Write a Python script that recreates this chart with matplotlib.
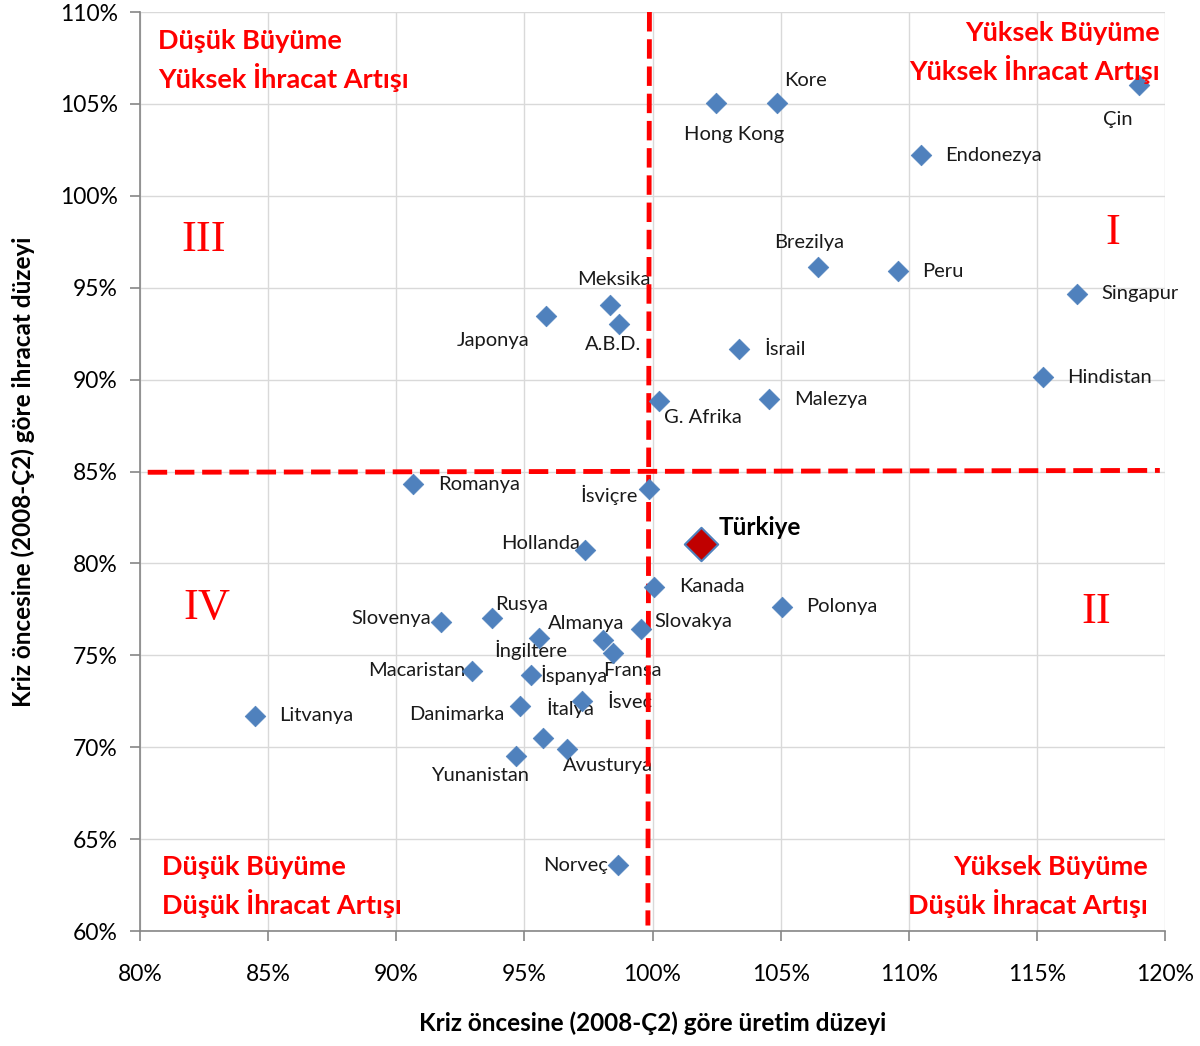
import matplotlib
matplotlib.use("Agg")
import matplotlib.pyplot as plt
from matplotlib.ticker import FuncFormatter

plt.rcParams['font.family'] = ['Lato', 'DejaVu Sans']

# countries: production level (x) and export level (y), % of 2008-Q2
countries = ['Çin', 'Kore', 'Hong Kong', 'Endonezya', 'Brezilya', 'Peru', 'Singapur',
             'Meksika', 'Japonya', 'A.B.D.', 'İsrail', 'Hindistan', 'G. Afrika', 'Malezya',
             'Romanya', 'İsviçre', 'Hollanda', 'Kanada', 'Polonya', 'Rusya', 'Slovenya',
             'Slovakya', 'İngiltere', 'Almanya', 'Fransa', 'Macaristan', 'İspanya', 'İsveç',
             'Danimarka', 'İtalya', 'Avusturya', 'Yunanistan', 'Litvanya', 'Norveç']
uretim = [118.98, 104.86, 102.48, 110.48, 106.46, 109.58, 116.57,
          98.34, 95.84, 98.69, 103.38, 115.24, 100.25, 104.55,
          90.65, 99.86, 97.37, 100.06, 105.05, 93.74, 91.75,
          99.55, 95.57, 98.07, 98.46, 92.96, 95.26, 97.25,
          94.83, 95.73, 96.66, 94.67, 84.49, 98.65]
ihracat = [106.03, 105.05, 105.05, 102.22, 96.13, 95.91, 94.66,
           94.06, 93.46, 93.03, 91.66, 90.14, 88.84, 88.94,
           84.32, 84.05, 80.73, 78.72, 77.63, 77.03, 76.81,
           76.43, 75.94, 75.83, 75.13, 74.15, 73.93, 72.51,
           72.24, 70.50, 69.90, 69.52, 71.70, 63.59]

turkiye_x = [101.89]
turkiye_y = [81.06]

# quadrant divider lines
vline_x = [99.88, 99.82]
vline_y = [110.0, 60.3]
hline_x = [80.3, 119.8]
hline_y = [84.96, 85.06]

# label offsets in pixels (dx, dy)
offsets = {
    'Çin': (-21, -35), 'Kore': (28, 23), 'Hong Kong': (18, -31), 'Endonezya': (72, 0),
    'Brezilya': (-9, 24), 'Peru': (45, 0), 'Singapur': (63, 0), 'Meksika': (4, 26),
    'Japonya': (-53, -24), 'A.B.D.': (-6, -21), 'İsrail': (46, 0), 'Hindistan': (67, 0),
    'G. Afrika': (44, -17), 'Malezya': (62, 0), 'Romanya': (66, 0), 'İsviçre': (-40, -6),
    'Hollanda': (-45, 7), 'Kanada': (58, 0), 'Polonya': (60, 0), 'Rusya': (29, 14),
    'Slovenya': (-50, 4), 'Slovakya': (52, 8), 'İngiltere': (-8, -12), 'Almanya': (-17, 17),
    'Fransa': (19, -18), 'Macaristan': (-55, 0), 'İspanya': (43, 0), 'İsveç': (48, 0),
    'Danimarka': (-63, -8), 'İtalya': (27, 30), 'Avusturya': (41, -16),
    'Yunanistan': (-36, -19), 'Litvanya': (61, 0), 'Norveç': (-42, 0),
}

fig = plt.figure(figsize=(12, 10.46), dpi=100)
ax = fig.add_axes([0.1167, 0.1099, 0.8541, 0.8786])

ax.set_xlim(80, 120)
ax.set_ylim(60, 110)
ax.set_xticks(range(80, 121, 5))
ax.set_yticks(range(60, 111, 5))
pct = FuncFormatter(lambda v, p: '%d%%' % v)
ax.xaxis.set_major_formatter(pct)
ax.yaxis.set_major_formatter(pct)
ax.grid(True, color='#d9d9d9', linewidth=1)
ax.set_axisbelow(True)
for s in ['top', 'right']:
    ax.spines[s].set_visible(False)
for s in ['left', 'bottom']:
    ax.spines[s].set_color('#868686')
    ax.spines[s].set_linewidth(1.2)
ax.tick_params(axis='both', direction='out', length=7, width=1.2, color='#868686',
               labelsize=16.5, labelcolor='black', pad=9)
ax.tick_params(axis='x', pad=17)

ax.plot(vline_x, vline_y, color='#ff0000', linewidth=3.5, linestyle=(0, (4, 1.6)), zorder=2)
ax.plot(hline_x, hline_y, color='#ff0000', linewidth=3.5, linestyle=(0, (4, 1.6)), zorder=2)

ax.scatter(uretim, ihracat, marker='D', s=10.5 ** 2, color='#4f81bd', edgecolors='#4f81bd',
           linewidths=0.5, zorder=3)
ax.scatter(turkiye_x, turkiye_y, marker='D', s=17 ** 2, color='#c00000', edgecolors='#4f81bd',
           linewidths=1.5, zorder=4)

for name, x, y in zip(countries, uretim, ihracat):
    dx, dy = offsets[name]
    ax.annotate(name, (x, y), xytext=(dx, dy), textcoords='offset pixels',
                ha='center', va='center', fontsize=14.5, color='#1a1a1a', zorder=1)
ax.annotate('Türkiye', (turkiye_x[0], turkiye_y[0]), xytext=(59, 16), textcoords='offset pixels',
            ha='center', va='center', fontsize=17.5, fontweight='bold', color='black')

red = '#ff0000'
qkw = dict(fontsize=19.5, fontweight='bold', color=red, va='center', transform=ax.transAxes)
ax.text(0.0176, 0.9684, 'Düşük Büyüme', ha='left', **qkw)
ax.text(0.0176, 0.9292, 'Yüksek İhracat Artışı', ha='left', **qkw)
ax.text(0.9951, 0.9771, 'Yüksek Büyüme', ha='right', **qkw)
ax.text(0.9951, 0.9380, 'Yüksek İhracat Artışı', ha='right', **qkw)
ax.text(0.0215, 0.0696, 'Düşük Büyüme', ha='left', **qkw)
ax.text(0.0215, 0.0305, 'Düşük İhracat Artışı', ha='left', **qkw)
ax.text(0.9834, 0.0696, 'Yüksek Büyüme', ha='right', **qkw)
ax.text(0.9834, 0.0305, 'Düşük İhracat Artışı', ha='right', **qkw)

rkw = dict(fontsize=32, color=red, family='Liberation Serif', ha='center', va='center')
ax.text(82.5, 97.6, 'III', **rkw)
ax.text(117.97, 97.98, 'I', **rkw)
ax.text(82.6, 77.57, 'IV', **rkw)
ax.text(117.3, 77.36, 'II', **rkw)

ax.set_xlabel('Kriz öncesine (2008-Ç2) göre üretim düzeyi', fontsize=17.5, fontweight='bold',
              labelpad=19)
ax.set_ylabel('Kriz öncesine (2008-Ç2) göre ihracat düzeyi', fontsize=17.5, fontweight='bold',
              labelpad=18)

fig.savefig('out.png', dpi=100)
